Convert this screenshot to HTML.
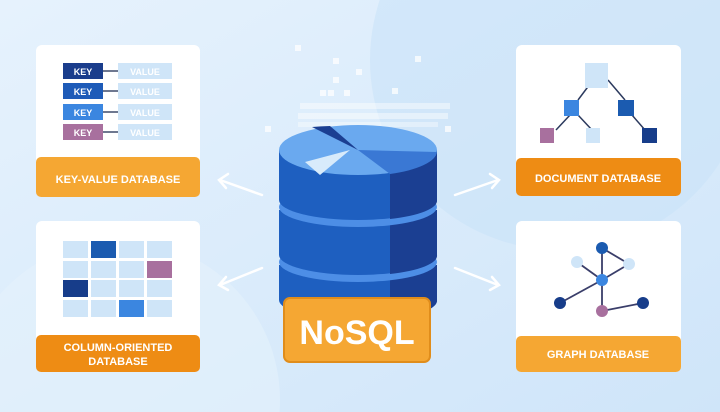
<!DOCTYPE html>
<html><head><style>
html,body{margin:0;padding:0;width:720px;height:412px;overflow:hidden}
body{background:#d8ebfb}
svg{display:block;position:absolute;left:0;top:0}
text{font-family:"Liberation Sans",sans-serif;font-weight:bold}
</style></head><body>
<svg width="720" height="412" viewBox="0 0 720 412">
<defs>
<linearGradient id="bg" x1="0" y1="0" x2="1" y2="1"><stop offset="0" stop-color="#e6f2fd"/><stop offset="1" stop-color="#cfe5f9"/></linearGradient>
</defs>
<rect width="720" height="412" fill="url(#bg)"/>
<circle cx="560" cy="60" r="190" fill="#c9e2f8" opacity="0.6"/>
<circle cx="120" cy="400" r="160" fill="#e4f1fc" opacity="0.6"/>
<g stroke="#fff" stroke-width="2.5" fill="none" stroke-linecap="round">
<line x1="262" y1="195" x2="220" y2="180"/><polyline points="228,174 219,180 226,188"/>
<line x1="262" y1="268" x2="220" y2="285"/><polyline points="226,277 219,285 228,290"/>
<line x1="455" y1="195" x2="498" y2="180"/><polyline points="490,174 499,180 492,188"/>
<line x1="455" y1="268" x2="498" y2="285"/><polyline points="492,277 499,285 490,290"/>
</g>
<g>
<rect x="36" y="45" width="164" height="152" rx="6" fill="#fff"/>
<rect x="36" y="157" width="164" height="40" rx="5" fill="#f5a733"/>
<text x="118" y="183" font-size="11" fill="#fff" text-anchor="middle">KEY-VALUE DATABASE</text>
<rect x="36" y="221" width="164" height="151" rx="6" fill="#fff"/>
<rect x="36" y="335" width="164" height="37" rx="5" fill="#ee8c14"/>
<text x="118" y="351" font-size="11" fill="#fff" text-anchor="middle">COLUMN-ORIENTED</text>
<text x="118" y="365" font-size="11" fill="#fff" text-anchor="middle">DATABASE</text>
<rect x="516" y="45" width="165" height="151" rx="6" fill="#fff"/>
<rect x="516" y="158" width="165" height="38" rx="5" fill="#ee8c14"/>
<text x="598" y="182" font-size="11" fill="#fff" text-anchor="middle">DOCUMENT DATABASE</text>
<rect x="516" y="221" width="165" height="151" rx="6" fill="#fff"/>
<rect x="516" y="336" width="165" height="36" rx="5" fill="#f5a733"/>
<text x="598" y="358" font-size="11" fill="#fff" text-anchor="middle">GRAPH DATABASE</text>
</g>
<g font-size="9" text-anchor="middle">
<g stroke="#3d4a6b" stroke-width="1.5"><line x1="103" y1="71" x2="118" y2="71"/><line x1="103" y1="91" x2="118" y2="91"/><line x1="103" y1="112" x2="118" y2="112"/><line x1="103" y1="132" x2="118" y2="132"/></g>
<rect x="63" y="63" width="40" height="16" fill="#1a3d8c"/><text x="83" y="75" fill="#fff">KEY</text>
<rect x="63" y="83" width="40" height="16" fill="#1e5bb8"/><text x="83" y="95" fill="#fff">KEY</text>
<rect x="63" y="104" width="40" height="16" fill="#3b86e0"/><text x="83" y="116" fill="#fff">KEY</text>
<rect x="63" y="124" width="40" height="16" fill="#a8709e"/><text x="83" y="136" fill="#fff">KEY</text>
<rect x="118" y="63" width="54" height="16" fill="#cfe5f8"/><text x="145" y="75" fill="#fff">VALUE</text>
<rect x="118" y="83" width="54" height="16" fill="#cfe5f8"/><text x="145" y="95" fill="#fff">VALUE</text>
<rect x="118" y="104" width="54" height="16" fill="#cfe5f8"/><text x="145" y="116" fill="#fff">VALUE</text>
<rect x="118" y="124" width="54" height="16" fill="#cfe5f8"/><text x="145" y="136" fill="#fff">VALUE</text>
</g>
<g fill="#cfe5f8">
<rect x="63" y="241" width="25" height="17"/><rect x="91" y="241" width="25" height="17" fill="#1b5bb0"/><rect x="119" y="241" width="25" height="17"/><rect x="147" y="241" width="25" height="17"/>
<rect x="63" y="261" width="25" height="17"/><rect x="91" y="261" width="25" height="17"/><rect x="119" y="261" width="25" height="17"/><rect x="147" y="261" width="25" height="17" fill="#a8709e"/>
<rect x="63" y="280" width="25" height="17" fill="#173d8a"/><rect x="91" y="280" width="25" height="17"/><rect x="119" y="280" width="25" height="17"/><rect x="147" y="280" width="25" height="17"/>
<rect x="63" y="300" width="25" height="17"/><rect x="91" y="300" width="25" height="17"/><rect x="119" y="300" width="25" height="17" fill="#3b86e0"/><rect x="147" y="300" width="25" height="17"/>
</g>
<g stroke="#2c3a5e" stroke-width="1.5"><line x1="593" y1="80" x2="578" y2="100"/><line x1="608" y1="80" x2="625" y2="100"/><line x1="570" y1="115" x2="556" y2="130"/><line x1="578" y1="115" x2="592" y2="130"/><line x1="632" y1="115" x2="645" y2="130"/></g>
<rect x="585" y="63" width="23" height="25" fill="#cfe5f8"/>
<rect x="564" y="100" width="15" height="16" fill="#3b86e0"/>
<rect x="618" y="100" width="16" height="16" fill="#1b5bb0"/>
<rect x="540" y="128" width="14" height="15" fill="#a8709e"/>
<rect x="586" y="128" width="14" height="15" fill="#cfe5f8"/>
<rect x="642" y="128" width="15" height="15" fill="#173d8a"/>
<g stroke="#3a3e6a" stroke-width="1.8"><line x1="602" y1="248" x2="602" y2="311"/><line x1="602" y1="248" x2="629" y2="264"/><line x1="577" y1="262" x2="602" y2="280"/><line x1="602" y1="280" x2="629" y2="264"/><line x1="602" y1="280" x2="560" y2="303"/><line x1="602" y1="311" x2="643" y2="303"/></g>
<circle cx="602" cy="248" r="6" fill="#1b5bb0"/><circle cx="577" cy="262" r="6" fill="#cfe5f8"/><circle cx="629" cy="264" r="6" fill="#cfe5f8"/><circle cx="602" cy="280" r="6" fill="#3b86e0"/><circle cx="560" cy="303" r="6" fill="#173d8a"/><circle cx="643" cy="303" r="6" fill="#173d8a"/><circle cx="602" cy="311" r="6" fill="#a8709e"/>
<g fill="#fff" opacity="0.75">
<rect x="295" y="45" width="6" height="6"/><rect x="333" y="58" width="6" height="6"/><rect x="415" y="56" width="6" height="6"/><rect x="356" y="69" width="6" height="6"/><rect x="333" y="77" width="6" height="6"/>
<rect x="320" y="90" width="6" height="6"/><rect x="328" y="90" width="6" height="6"/><rect x="344" y="90" width="6" height="6"/><rect x="392" y="88" width="6" height="6"/>
<rect x="300" y="103" width="150" height="6" opacity="0.6"/><rect x="298" y="113" width="150" height="6" opacity="0.6"/><rect x="298" y="122" width="140" height="5" opacity="0.5"/>
<rect x="265" y="126" width="6" height="6"/><rect x="445" y="126" width="6" height="6"/>
</g>
<g>
<path d="M279 265 L279 300 A79 20 0 0 0 437 300 L437 265 Z" fill="#1e5fc0"/>
<path d="M390 265 L390 319 A79 20 0 0 0 437 300 L437 265 Z" fill="#1b3f92"/>
<ellipse cx="358" cy="262" rx="79" ry="20" fill="#4d8ee6"/>
<path d="M279 210 L279 255 A79 20 0 0 0 437 255 L437 210 Z" fill="#1e5fc0"/>
<path d="M390 210 L390 274 A79 20 0 0 0 437 255 L437 210 Z" fill="#1b3f92"/>
<ellipse cx="358" cy="207" rx="79" ry="20" fill="#4d8ee6"/>
<path d="M279 150 L279 200 A79 20 0 0 0 437 200 L437 150 Z" fill="#1e5fc0"/>
<path d="M390 160 L390 219 A79 20 0 0 0 437 200 L437 150 Z" fill="#1b3f92"/>
<ellipse cx="358" cy="150" rx="79" ry="25" fill="#6aa9ef"/>
<path d="M358 150 L312 127 A79 25 0 0 1 330 126 Z" fill="#1b3f92"/>
<path d="M358 150 L390 174 A79 25 0 0 0 437 152 Z" fill="#3a78d4"/>
<path d="M350 150 L305 162 L320 175 Z" fill="#d8ebfb"/>
</g>
<rect x="284" y="298" width="146" height="64" rx="6" fill="#f5a733" stroke="#e08d1b" stroke-width="2"/>
<text x="357" y="344" font-size="34" fill="#fff" text-anchor="middle">NoSQL</text>
</svg>
</body></html>
